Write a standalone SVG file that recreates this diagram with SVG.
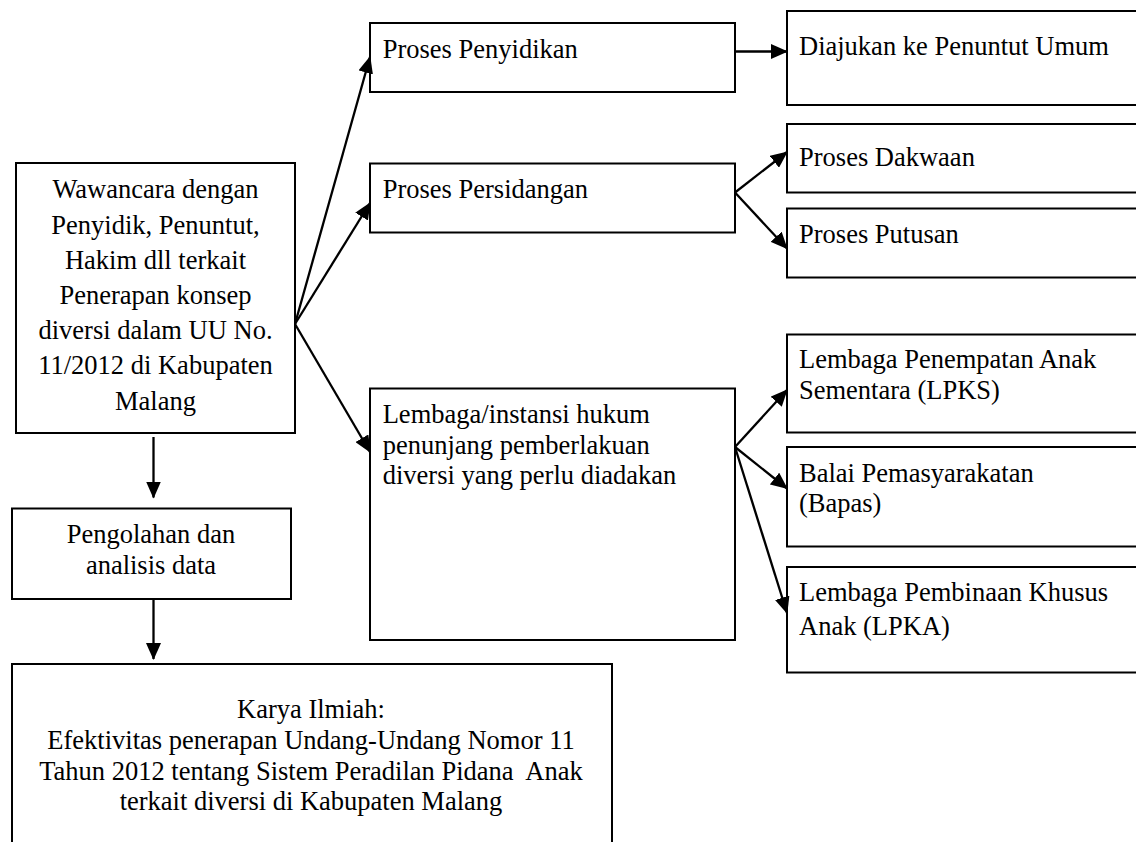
<svg xmlns="http://www.w3.org/2000/svg" width="1136" height="842" viewBox="0 0 1136 842">
<style>
.box{fill:#fff;stroke:#000;stroke-width:2}
.t{font-family:"Liberation Serif","Times New Roman",serif;font-size:26.5px;fill:#000;white-space:pre}
.c{text-anchor:middle}
.con line{stroke:#000;stroke-width:2.3;marker-end:url(#ah)}
</style>
<defs>
<marker id="ah" viewBox="0 0 17 15" refX="16" refY="7.5" markerWidth="17" markerHeight="15" markerUnits="userSpaceOnUse" orient="auto">
<path d="M0,0 L17,7.5 L0,15 z" fill="#000"/>
</marker>
</defs>
<rect width="1136" height="842" fill="#fff"/>
<g id="n-wawancara">
<rect class="box" x="16" y="163" width="279" height="270"/>
<text class="t c" x="155.5" y="198.3">Wawancara dengan</text>
<text class="t c" x="155.5" y="233.5">Penyidik, Penuntut,</text>
<text class="t c" x="155.5" y="268.7">Hakim dll terkait</text>
<text class="t c" x="155.5" y="303.9">Penerapan konsep</text>
<text class="t c" x="155.5" y="339.1">diversi dalam UU No.</text>
<text class="t c" x="155.5" y="374.3">11/2012 di Kabupaten</text>
<text class="t c" x="155.5" y="409.5">Malang</text>
</g>
<g id="n-penyidikan">
<rect class="box" x="370" y="23" width="365" height="69"/>
<text class="t" x="382.7" y="58.3">Proses Penyidikan</text>
</g>
<g id="n-persidangan">
<rect class="box" x="370" y="163.5" width="365" height="69"/>
<text class="t" x="382.7" y="198.3">Proses Persidangan</text>
</g>
<g id="n-lembaga">
<rect class="box" x="370" y="388.5" width="365" height="251.5"/>
<text class="t" x="382.7" y="423.3">Lembaga/instansi hukum</text>
<text class="t" x="382.7" y="453.8">penunjang pemberlakuan</text>
<text class="t" x="382.7" y="484.3">diversi yang perlu diadakan</text>
</g>
<g id="n-diajukan">
<rect class="box" x="787" y="11" width="360" height="94"/>
<text class="t" x="799" y="55">Diajukan ke Penuntut Umum</text>
</g>
<g id="n-dakwaan">
<rect class="box" x="787" y="124" width="360" height="68.5"/>
<text class="t" x="799" y="165.7">Proses Dakwaan</text>
</g>
<g id="n-putusan">
<rect class="box" x="787" y="208.5" width="360" height="69"/>
<text class="t" x="799" y="242.7">Proses Putusan</text>
</g>
<g id="n-lpks">
<rect class="box" x="787" y="334.5" width="360" height="98"/>
<text class="t" x="799" y="368.3">Lembaga Penempatan Anak</text>
<text class="t" x="799" y="399.3">Sementara (LPKS)</text>
</g>
<g id="n-bapas">
<rect class="box" x="787" y="447" width="360" height="99.5"/>
<text class="t" x="799" y="481.7">Balai Pemasyarakatan</text>
<text class="t" x="799" y="511.7">(Bapas)</text>
</g>
<g id="n-lpka">
<rect class="box" x="787" y="567" width="360" height="105.5"/>
<text class="t" x="799" y="601">Lembaga Pembinaan Khusus</text>
<text class="t" x="799" y="635">Anak (LPKA)</text>
</g>
<g id="n-pengolahan">
<rect class="box" x="12" y="508.5" width="279" height="90.5"/>
<text class="t c" x="151" y="543.3">Pengolahan dan</text>
<text class="t c" x="151" y="574">analisis data</text>
</g>
<g id="n-karya">
<rect class="box" x="12" y="664" width="600" height="200"/>
<text class="t c" x="311" y="718.3">Karya Ilmiah:</text>
<text class="t c" x="311" y="749.3">Efektivitas penerapan Undang-Undang Nomor 11</text>
<text class="t c" x="311" y="779.5">Tahun 2012 tentang Sistem Peradilan Pidana  Anak</text>
<text class="t c" x="311" y="810">terkait diversi di Kabupaten Malang</text>
</g>
<g id="connectors" class="con">
<line x1="295" y1="324" x2="370" y2="57"/>
<line x1="295" y1="324" x2="370" y2="203"/>
<line x1="295" y1="324" x2="370" y2="452"/>
<line x1="735" y1="51.5" x2="787" y2="51.5"/>
<line x1="735" y1="192.5" x2="787" y2="152"/>
<line x1="735" y1="192.5" x2="787" y2="248.5"/>
<line x1="735" y1="447" x2="787" y2="390"/>
<line x1="735" y1="447" x2="787" y2="488.5"/>
<line x1="735" y1="447" x2="787" y2="613"/>
<line x1="153.5" y1="437" x2="153.5" y2="497.5"/>
<line x1="153.5" y1="599" x2="153.5" y2="659"/>
</g>
</svg>
